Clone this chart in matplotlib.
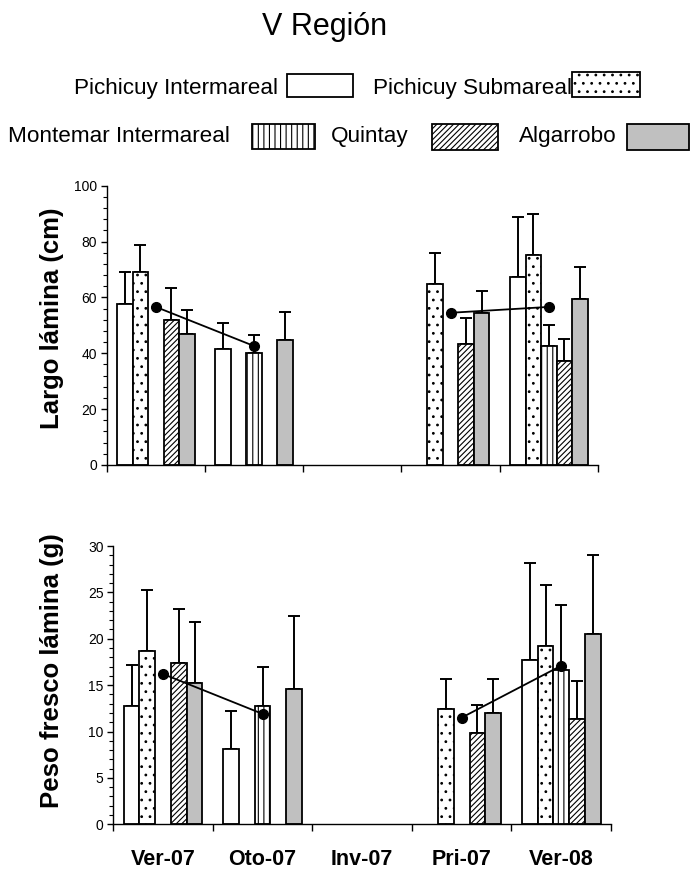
import numpy as np
import matplotlib
matplotlib.use('Agg')
import matplotlib.pyplot as plt
from matplotlib.patches import Rectangle
from matplotlib.ticker import MultipleLocator, FixedLocator

plt.rcParams['font.family'] = ['Liberation Sans', 'DejaVu Sans']
plt.rcParams['hatch.linewidth'] = 0.8

seasons = ['Ver-07', 'Oto-07', 'Inv-07', 'Pri-07', 'Ver-08']
series = ['Pichicuy Intermareal', 'Pichicuy Submareal', 'Montemar Intermareal', 'Quintay', 'Algarrobo']
nan = np.nan

# largo lamina (cm): mean and upper error per series, one value per season
largo = {
    'Pichicuy Intermareal': [57.5, 41.4, nan, nan, 67.2],
    'Pichicuy Submareal':   [69.1, nan, nan, 64.8, 75.2],
    'Montemar Intermareal': [nan, 40.2, nan, nan, 42.7],
    'Quintay':              [51.9, nan, nan, 43.3, 37.2],
    'Algarrobo':            [47.0, 44.6, nan, 54.3, 59.3],
}
largo_err = {
    'Pichicuy Intermareal': [11.7, 9.3, nan, nan, 21.5],
    'Pichicuy Submareal':   [9.7, nan, nan, 11.1, 14.8],
    'Montemar Intermareal': [nan, 6.3, nan, nan, 7.4],
    'Quintay':              [11.6, nan, nan, 9.3, 7.9],
    'Algarrobo':            [8.6, 10.3, nan, 8.1, 11.7],
}
largo_mean = [56.6, 42.6, nan, 54.5, 56.6]

# peso fresco lamina (g)
peso = {
    'Pichicuy Intermareal': [12.8, 8.15, nan, nan, 17.7],
    'Pichicuy Submareal':   [18.7, nan, nan, 12.4, 19.2],
    'Montemar Intermareal': [nan, 12.8, nan, nan, 16.6],
    'Quintay':              [17.4, nan, nan, 9.8, 11.3],
    'Algarrobo':            [15.2, 14.6, nan, 12.0, 20.5],
}
peso_err = {
    'Pichicuy Intermareal': [4.4, 4.05, nan, nan, 10.5],
    'Pichicuy Submareal':   [6.6, nan, nan, 3.3, 6.6],
    'Montemar Intermareal': [nan, 4.2, nan, nan, 7.0],
    'Quintay':              [5.8, nan, nan, 3.1, 4.2],
    'Algarrobo':            [6.6, 7.9, nan, 3.7, 8.5],
}
peso_mean = [16.2, 11.9, nan, 11.5, 17.1]

styles = {
    'Pichicuy Intermareal': dict(facecolor='white', hatch=None),
    'Pichicuy Submareal':   dict(facecolor='white', hatch='..'),
    'Montemar Intermareal': dict(facecolor='white', hatch='|||'),
    'Quintay':              dict(facecolor='white', hatch='//////'),
    'Algarrobo':            dict(facecolor='#c0c0c0', hatch=None),
}

W, H = 690, 869
fig = plt.figure(figsize=(6.9, 8.69), dpi=100)

def px_axes(l, r, b, t):
    return fig.add_axes([l / W, 1 - b / H, (r - l) / W, (b - t) / H])

def draw_panel(ax, vals, errs, means, ymax, major, minor, ylabel, ycenter, show_x):
    bw = 0.158
    centers = np.arange(len(seasons)) + 0.5
    for k, s in enumerate(series):
        x = centers + (k - 2) * bw
        v = np.array(vals[s])
        e = np.array(errs[s])
        ok = ~np.isnan(v)
        ax.bar(x[ok], v[ok], width=bw, edgecolor='black', linewidth=1.3,
               zorder=2, **styles[s])
        ax.errorbar(x[ok], v[ok], yerr=[np.zeros(ok.sum()), e[ok]], fmt='none',
                    ecolor='black', elinewidth=1.4, capsize=4.5, capthick=1.4, zorder=1)
    ax.plot(centers, means, color='black', lw=1.3, marker='o', ms=7, zorder=4)
    ax.set_xlim(0, len(seasons))
    ax.set_ylim(0, ymax)
    ax.spines['top'].set_visible(False)
    ax.spines['right'].set_visible(False)
    ax.spines['left'].set_linewidth(1.0)
    ax.spines['bottom'].set_linewidth(1.0)
    ax.yaxis.set_major_locator(MultipleLocator(major))
    ax.yaxis.set_minor_locator(MultipleLocator(minor))
    ax.tick_params(axis='y', which='major', direction='out', length=4, width=1, labelsize=10, pad=3)
    ax.tick_params(axis='y', which='minor', direction='out', length=3, width=0.8)
    ax.xaxis.set_major_locator(FixedLocator(np.arange(len(seasons) + 1)))
    ax.xaxis.set_minor_locator(FixedLocator(centers))
    ax.tick_params(axis='x', which='major', direction='out', length=5, width=1, labelbottom=False)
    if show_x:
        ax.set_xticks(centers, seasons, minor=True)
        ax.tick_params(axis='x', which='minor', length=0, pad=18, labelsize=15.5)
        for t in ax.get_xticklabels(minor=True):
            t.set_fontweight('bold')
    else:
        ax.tick_params(axis='x', which='minor', length=0)
    fig.text(52 / W, 1 - ycenter / H, ylabel, rotation=90, ha='center', va='center',
             fontsize=18.5, fontweight='bold')

ax1 = px_axes(106.7, 598, 465, 185.7)
draw_panel(ax1, largo, largo_err, largo_mean, 100, 20, 4, 'Largo lámina (cm)', 318, False)
ax2 = px_axes(113.3, 611, 824.3, 546)
draw_panel(ax2, peso, peso_err, peso_mean, 30, 5, 1, 'Peso fresco lámina (g)', 671, True)

fig.text(325 / W, 1 - 35 / H, 'V Región', ha='center', va='baseline', fontsize=22)

# legend, placed by hand as in the original
leg = [
    ('Pichicuy Intermareal', 278, 94, 287, 353, 74, 97),
    ('Pichicuy Submareal', 572, 94, 572, 640, 72, 97),
    ('Montemar Intermareal', 230, 142, 252, 315, 124, 149),
    ('Quintay', 408, 142, 432, 498, 124, 150),
    ('Algarrobo', 617, 142, 627, 689, 124, 150),
]
for name, tx, ty, bl, br, bt, bb in leg:
    fig.text(tx / W, 1 - ty / H, name, ha='right', va='baseline', fontsize=16.2)
    st = styles[name]
    fig.patches.append(Rectangle((bl / W, 1 - bb / H), (br - bl) / W, (bb - bt) / H,
                                 transform=fig.transFigure, facecolor=st['facecolor'],
                                 hatch=st['hatch'], edgecolor='black', linewidth=1.3))

fig.savefig('out.png', dpi=100)
